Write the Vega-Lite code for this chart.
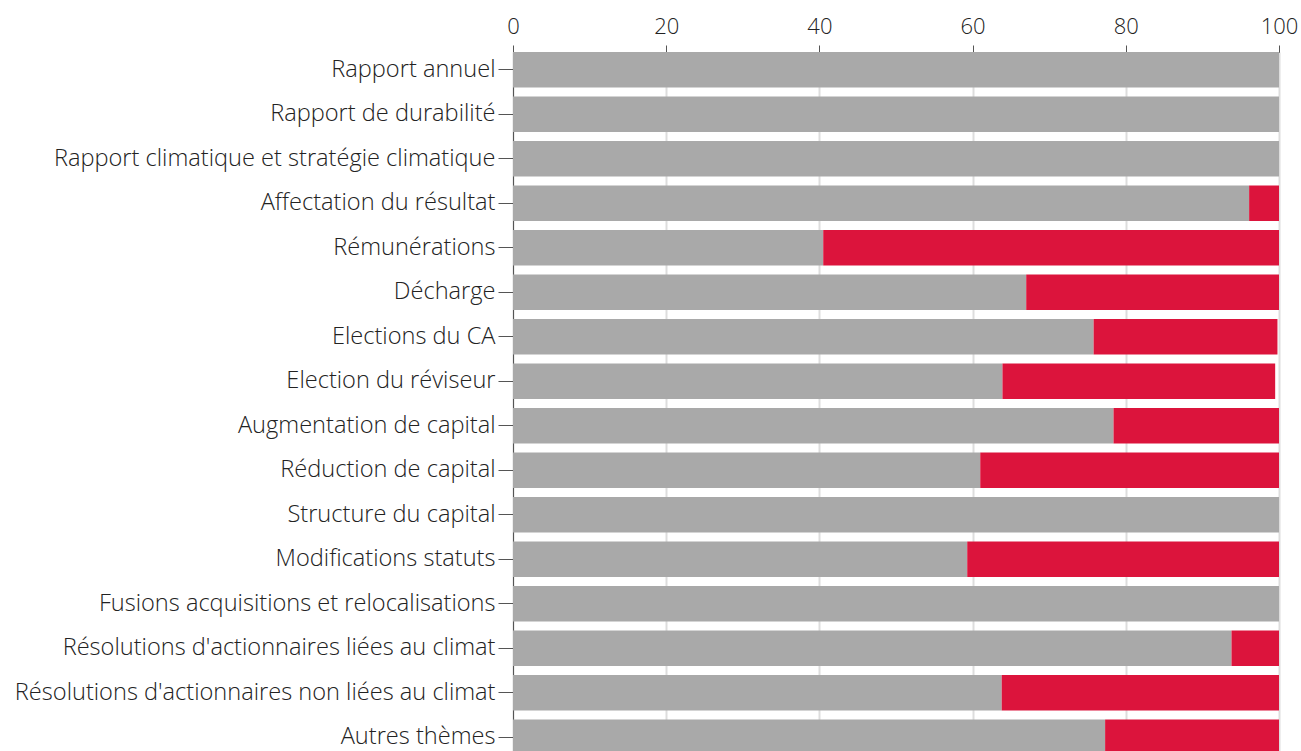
{
  "$schema": "https://vega.github.io/schema/vega-lite/v6.json",
  "autosize": "none",
  "width": 766,
  "height": 703,
  "padding": {"left": 513, "top": 52, "right": 22, "bottom": -4},
  "background": "white",
  "config": {"view": {"stroke": null}, "font": "Open Sans"},
  "data": {
    "values": [
      {"theme": "Rapport annuel", "vote": "Pour", "rank": 1, "value": 100},
      {"theme": "Rapport annuel", "vote": "Contre", "rank": 2, "value": 0},
      {"theme": "Rapport de durabilité", "vote": "Pour", "rank": 1, "value": 100},
      {"theme": "Rapport de durabilité", "vote": "Contre", "rank": 2, "value": 0},
      {"theme": "Rapport climatique et stratégie climatique", "vote": "Pour", "rank": 1, "value": 100},
      {"theme": "Rapport climatique et stratégie climatique", "vote": "Contre", "rank": 2, "value": 0},
      {"theme": "Affectation du résultat", "vote": "Pour", "rank": 1, "value": 96.1},
      {"theme": "Affectation du résultat", "vote": "Contre", "rank": 2, "value": 3.9},
      {"theme": "Rémunérations", "vote": "Pour", "rank": 1, "value": 40.5},
      {"theme": "Rémunérations", "vote": "Contre", "rank": 2, "value": 59.5},
      {"theme": "Décharge", "vote": "Pour", "rank": 1, "value": 67.0},
      {"theme": "Décharge", "vote": "Contre", "rank": 2, "value": 33.0},
      {"theme": "Elections du CA", "vote": "Pour", "rank": 1, "value": 75.8},
      {"theme": "Elections du CA", "vote": "Contre", "rank": 2, "value": 24.0},
      {"theme": "Election du réviseur", "vote": "Pour", "rank": 1, "value": 63.9},
      {"theme": "Election du réviseur", "vote": "Contre", "rank": 2, "value": 35.6},
      {"theme": "Augmentation de capital", "vote": "Pour", "rank": 1, "value": 78.4},
      {"theme": "Augmentation de capital", "vote": "Contre", "rank": 2, "value": 21.6},
      {"theme": "Réduction de capital", "vote": "Pour", "rank": 1, "value": 61.0},
      {"theme": "Réduction de capital", "vote": "Contre", "rank": 2, "value": 39.0},
      {"theme": "Structure du capital", "vote": "Pour", "rank": 1, "value": 100},
      {"theme": "Structure du capital", "vote": "Contre", "rank": 2, "value": 0},
      {"theme": "Modifications statuts", "vote": "Pour", "rank": 1, "value": 59.3},
      {"theme": "Modifications statuts", "vote": "Contre", "rank": 2, "value": 40.7},
      {"theme": "Fusions acquisitions et relocalisations", "vote": "Pour", "rank": 1, "value": 100},
      {"theme": "Fusions acquisitions et relocalisations", "vote": "Contre", "rank": 2, "value": 0},
      {"theme": "Résolutions d'actionnaires liées au climat", "vote": "Pour", "rank": 1, "value": 93.8},
      {"theme": "Résolutions d'actionnaires liées au climat", "vote": "Contre", "rank": 2, "value": 6.2},
      {"theme": "Résolutions d'actionnaires non liées au climat", "vote": "Pour", "rank": 1, "value": 63.8},
      {"theme": "Résolutions d'actionnaires non liées au climat", "vote": "Contre", "rank": 2, "value": 36.2},
      {"theme": "Autres thèmes", "vote": "Pour", "rank": 1, "value": 77.3},
      {"theme": "Autres thèmes", "vote": "Contre", "rank": 2, "value": 22.7}
    ]
  },
  "mark": {"type": "bar"},
  "encoding": {
    "y": {
      "field": "theme",
      "type": "nominal",
      "sort": [
        "Rapport annuel",
        "Rapport de durabilité",
        "Rapport climatique et stratégie climatique",
        "Affectation du résultat",
        "Rémunérations",
        "Décharge",
        "Elections du CA",
        "Election du réviseur",
        "Augmentation de capital",
        "Réduction de capital",
        "Structure du capital",
        "Modifications statuts",
        "Fusions acquisitions et relocalisations",
        "Résolutions d'actionnaires liées au climat",
        "Résolutions d'actionnaires non liées au climat",
        "Autres thèmes"
      ],
      "scale": {"paddingInner": 0.2, "paddingOuter": 0},
      "axis": {
        "title": null,
        "labelFont": "Open Sans",
        "labelFontSize": 23.6,
        "labelFontWeight": 300,
        "labelColor": "#222222",
        "labelLimit": 600,
        "labelPadding": 3,
        "tickSize": 15,
        "tickColor": "#555555",
        "domainColor": "#555555",
        "grid": false
      }
    },
    "x": {
      "field": "value",
      "type": "quantitative",
      "stack": "zero",
      "scale": {"domain": [0, 100], "nice": false},
      "axis": {
        "orient": "top",
        "title": null,
        "values": [0, 20, 40, 60, 80, 100],
        "grid": true,
        "gridColor": "#dddddd",
        "gridWidth": 2,
        "tickSize": 7,
        "tickColor": "#555555",
        "domainColor": "#555555",
        "labelFont": "Open Sans",
        "labelFontSize": 22,
        "labelFontWeight": 300,
        "labelColor": "#222222",
        "labelPadding": 7,
        "labelFlush": false
      }
    },
    "color": {
      "field": "vote",
      "type": "nominal",
      "scale": {"domain": ["Pour", "Contre"], "range": ["#a9a9a9", "#dc143c"]},
      "legend": null
    },
    "order": {"field": "rank", "type": "quantitative"}
  }
}
